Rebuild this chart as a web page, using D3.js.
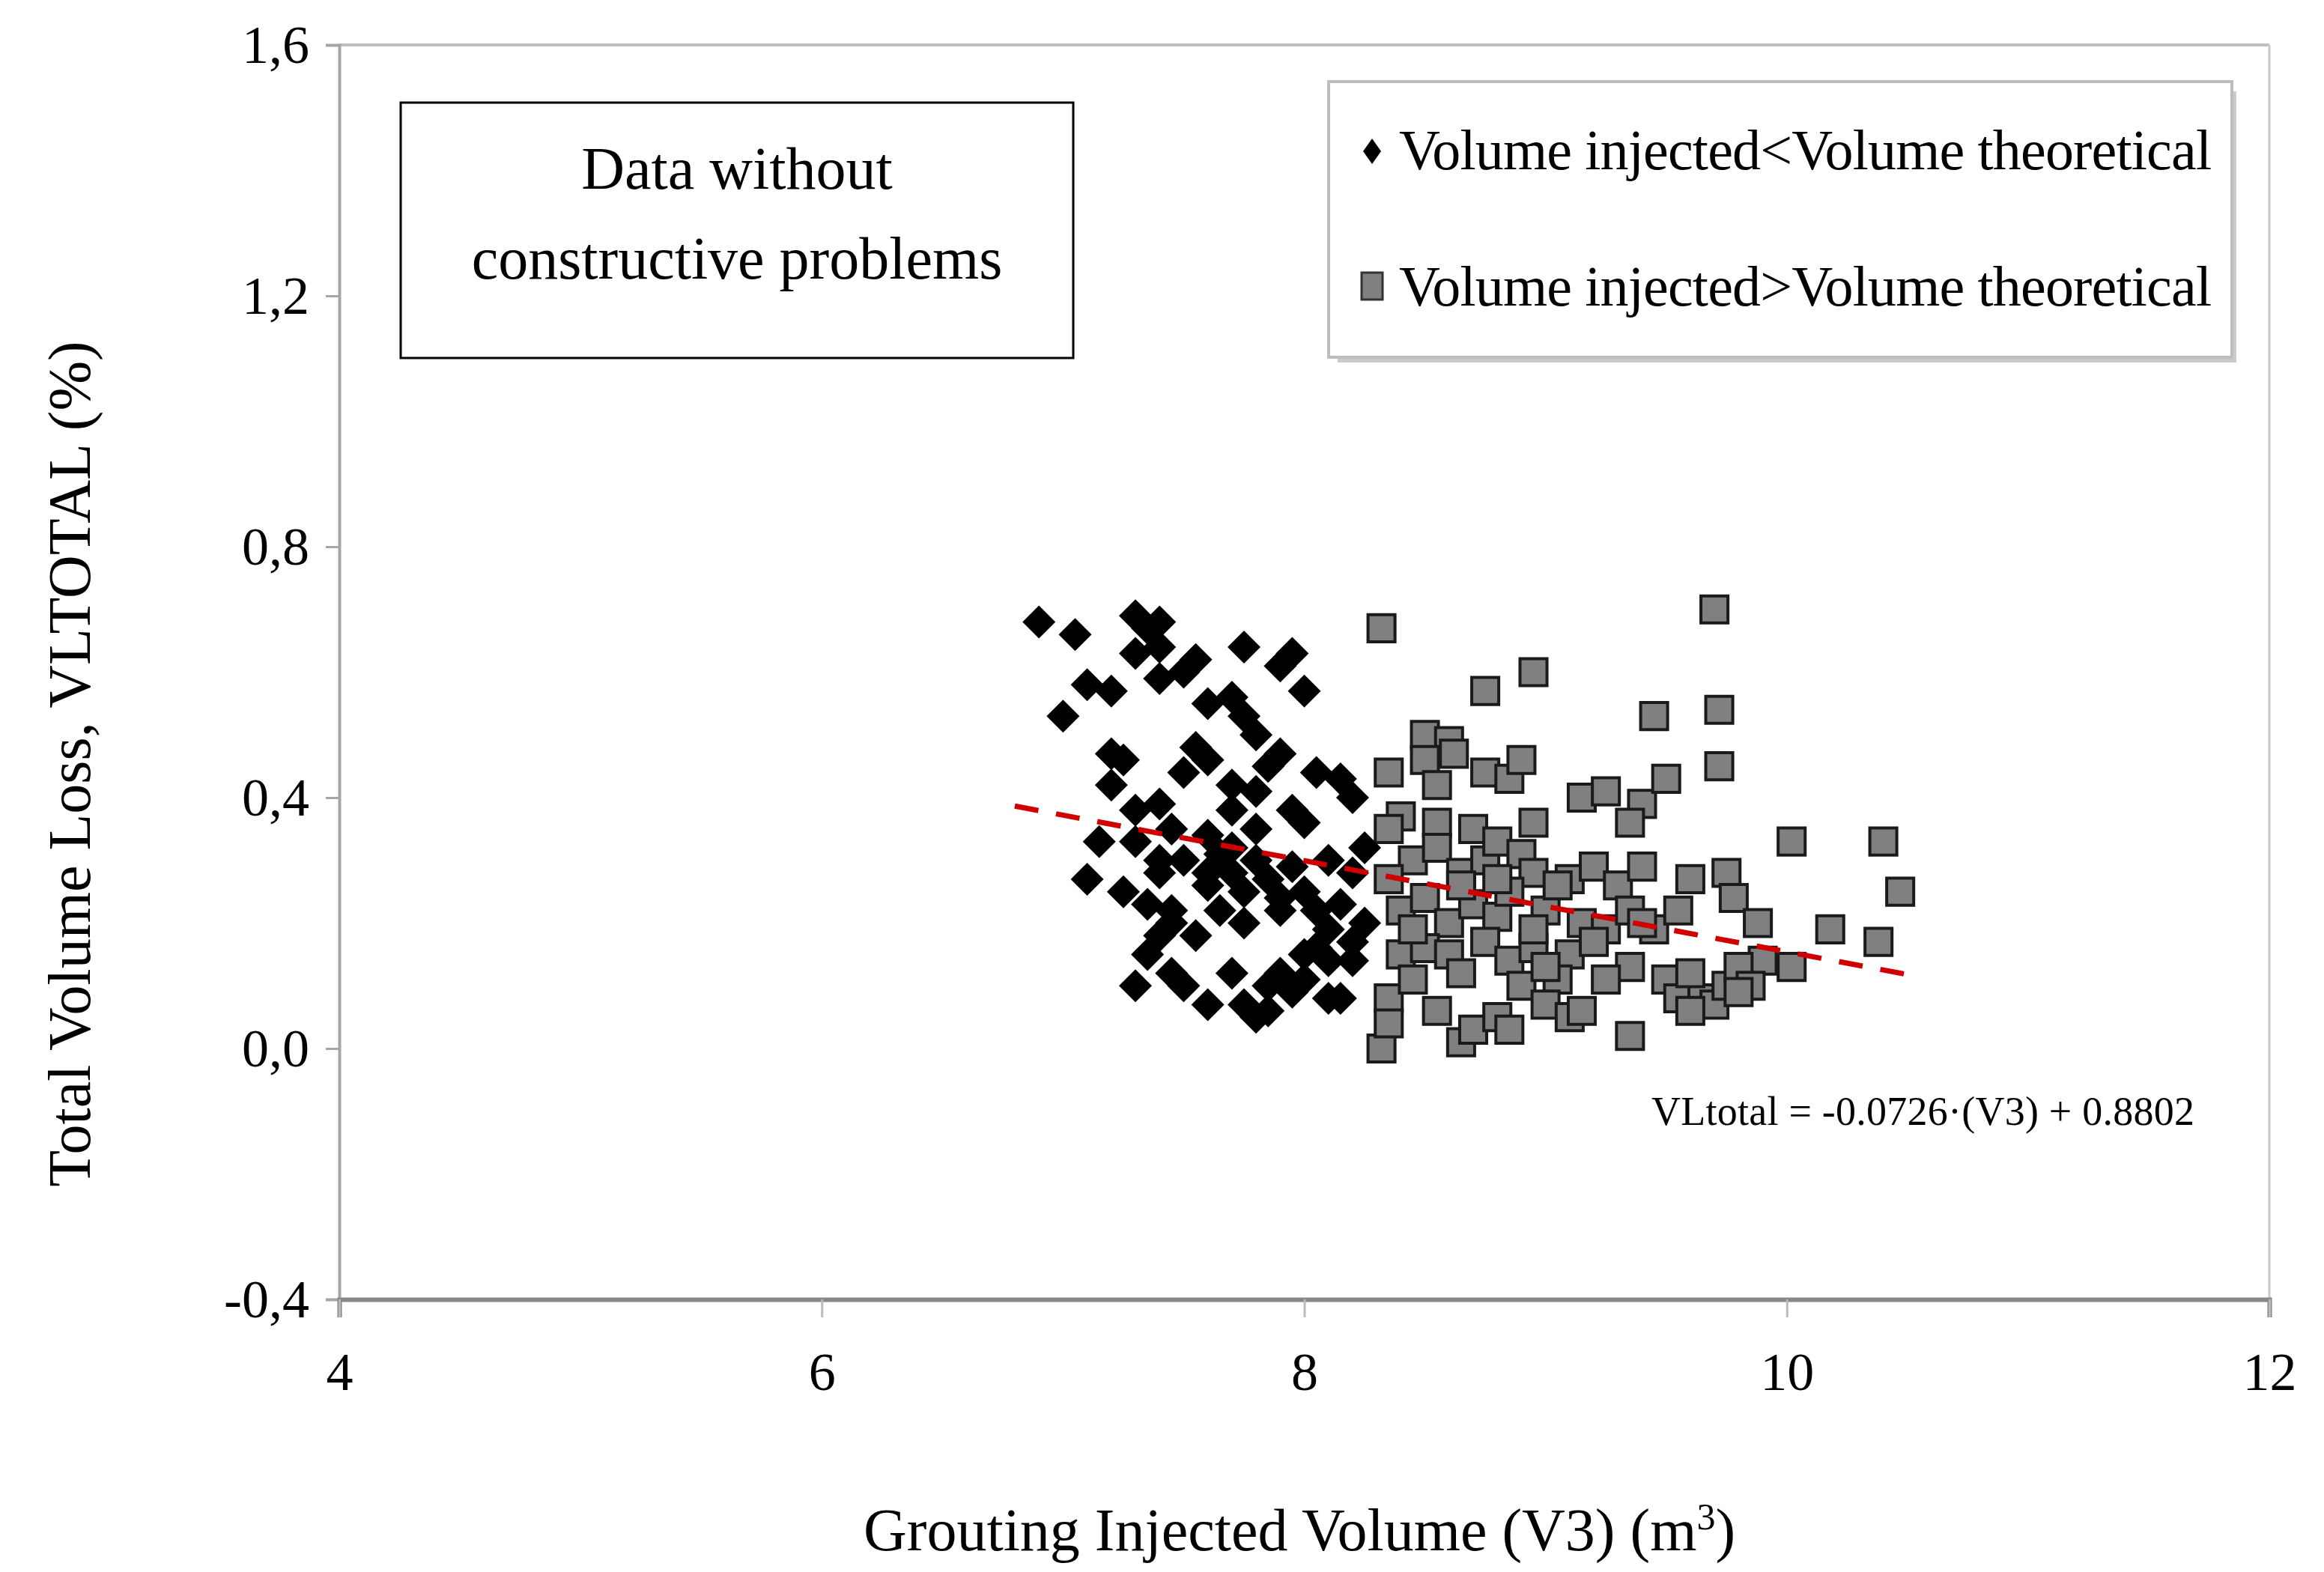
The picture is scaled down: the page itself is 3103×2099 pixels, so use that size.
<!DOCTYPE html>
<html><head><meta charset="utf-8">
<script src="https://cdn.jsdelivr.net/npm/d3@7"></script>
<style>body{margin:0;background:#fff}svg{display:block}text{font-family:"Liberation Serif","DejaVu Serif",serif}</style>
</head><body>
<script>
const xTicks=[4,6,8,10,12];
const yTicks=[-0.4,0,0.4,0.8,1.2,1.6];
const diamonds=[[6.9,0.68],[7.05,0.66],[7.1,0.58],[7.2,0.57],[7.0,0.53],[7.3,0.69],[7.35,0.67],[7.4,0.68],[7.3,0.63],[7.4,0.64],[7.55,0.62],[7.4,0.59],[7.5,0.6],[7.6,0.55],[7.75,0.64],[7.7,0.56],[7.9,0.61],[7.95,0.63],[8.0,0.57],[7.75,0.53],[7.8,0.5],[7.9,0.47],[7.2,0.47],[7.25,0.46],[7.55,0.48],[7.5,0.44],[7.6,0.46],[7.7,0.42],[7.85,0.45],[7.2,0.42],[7.3,0.38],[7.4,0.39],[7.45,0.35],[7.3,0.33],[7.15,0.33],[7.6,0.34],[7.7,0.38],[7.8,0.41],[7.95,0.38],[8.05,0.44],[8.15,0.43],[8.2,0.40],[8.0,0.36],[7.65,0.31],[7.5,0.30],[7.4,0.28],[7.1,0.27],[7.25,0.25],[7.35,0.23],[7.45,0.22],[7.4,0.18],[7.35,0.15],[7.45,0.2],[7.6,0.26],[7.7,0.28],[7.8,0.3],[7.75,0.25],[7.85,0.27],[7.9,0.24],[7.95,0.29],[8.0,0.25],[7.65,0.22],[7.75,0.20],[7.9,0.22],[8.05,0.22],[8.1,0.19],[8.15,0.23],[8.2,0.28],[8.25,0.32],[8.2,0.17],[8.05,0.16],[8.1,0.14],[8.2,0.14],[8.25,0.2],[7.3,0.1],[7.45,0.12],[7.5,0.1],[7.6,0.07],[7.7,0.12],[7.75,0.07],[7.8,0.05],[7.85,0.1],[7.9,0.12],[7.95,0.09],[8.0,0.11],[8.1,0.08],[8.15,0.08],[7.8,0.35],[7.7,0.32],[8.1,0.3],[7.55,0.18],[8.0,0.15],[7.85,0.06],[7.6,0.28],[7.4,0.3]];
const squares=[[8.32,0.67],[8.95,0.6],[8.75,0.57],[9.7,0.7],[9.72,0.54],[9.45,0.53],[9.72,0.45],[8.35,0.44],[8.5,0.5],[8.6,0.49],[8.62,0.47],[8.5,0.46],[8.55,0.42],[8.75,0.44],[8.85,0.43],[8.9,0.46],[9.15,0.4],[9.25,0.41],[9.4,0.39],[9.35,0.36],[9.5,0.43],[8.4,0.37],[8.55,0.36],[8.35,0.35],[8.7,0.35],[8.95,0.36],[8.45,0.3],[8.55,0.32],[8.65,0.28],[8.75,0.3],[8.8,0.33],[8.9,0.31],[8.95,0.28],[9.1,0.27],[9.2,0.29],[9.3,0.26],[9.4,0.29],[9.6,0.27],[9.75,0.28],[9.78,0.24],[10.02,0.33],[10.4,0.33],[10.47,0.25],[10.18,0.19],[9.88,0.2],[9.9,0.14],[10.02,0.13],[10.38,0.17],[8.35,0.27],[8.4,0.22],[8.5,0.24],[8.6,0.2],[8.7,0.23],[8.8,0.21],[8.85,0.25],[9.0,0.22],[9.05,0.26],[9.15,0.2],[9.25,0.19],[9.35,0.22],[9.45,0.19],[9.55,0.22],[8.4,0.15],[8.5,0.16],[8.6,0.15],[8.75,0.17],[8.85,0.14],[8.95,0.16],[9.1,0.15],[9.2,0.17],[9.35,0.13],[9.05,0.11],[8.35,0.08],[8.55,0.06],[8.45,0.11],[8.65,0.12],[8.9,0.1],[9.0,0.07],[9.1,0.05],[9.15,0.06],[9.25,0.11],[9.5,0.11],[9.55,0.08],[9.65,0.08],[9.7,0.07],[9.75,0.1],[9.8,0.13],[9.85,0.1],[9.6,0.06],[9.8,0.09],[8.32,0.0],[8.35,0.04],[8.65,0.01],[8.7,0.03],[8.8,0.05],[8.85,0.03],[9.35,0.02],[8.45,0.19],[8.65,0.26],[8.8,0.27],[8.95,0.19],[9.0,0.13],[9.4,0.2],[9.6,0.12]];
const trendX=[6.8,10.5];
const slope=-0.0726, intercept=0.8802;

const W=3103,H=2099,L=453,R=3030,T=60,B=1735;
const svg=d3.select("body").append("svg").attr("width",W).attr("height",H);
const x=d3.scaleLinear().domain([4,12]).range([L,R]);
const y=d3.scaleLinear().domain([-0.4,1.6]).range([B,T]);
const fmt=d=>d3.format(".1f")(d).replace(".",",").replace("−","-");

svg.append("line").attr("x1",L).attr("x2",R).attr("y1",T).attr("y2",T).attr("stroke","#c0c0c0").attr("stroke-width",4);
svg.append("line").attr("x1",R).attr("x2",R).attr("y1",T).attr("y2",B).attr("stroke","#c8c8c8").attr("stroke-width",3);
const ya=svg.append("g").attr("transform",`translate(${L},0)`).call(d3.axisLeft(y).tickValues(yTicks).tickSize(18).tickPadding(22).tickFormat(fmt));
ya.select(".domain").attr("stroke","#a6a6a6").attr("stroke-width",4);
ya.selectAll(".tick line").attr("stroke","#a6a6a6").attr("stroke-width",3);
ya.selectAll("text").attr("font-size",72).attr("fill","#000");
const xa=svg.append("g").attr("transform",`translate(0,${B})`).call(d3.axisBottom(x).tickValues(xTicks).tickSize(24).tickPadding(46).tickFormat(d3.format("d")));
xa.select(".domain").attr("stroke","#888").attr("stroke-width",6);
xa.selectAll(".tick line").attr("stroke","#bbb").attr("stroke-width",3);
xa.selectAll("text").attr("font-size",72).attr("fill","#000");

svg.append("g").selectAll("path").data(squares).join("path")
 .attr("d",d3.symbol(d3.symbolSquare,1300)).attr("transform",d=>`translate(${x(d[0])},${y(d[1])})`)
 .attr("fill","#808080").attr("stroke","#1a1a1a").attr("stroke-width",4);
svg.append("g").selectAll("path").data(diamonds).join("path")
 .attr("d","M0,-22L22,0L0,22L-22,0Z").attr("transform",d=>`translate(${x(d[0])},${y(d[1])})`)
 .attr("fill","#000");

svg.append("line").attr("x1",x(trendX[0])).attr("y1",y(slope*trendX[0]+intercept))
 .attr("x2",x(trendX[1])).attr("y2",y(slope*trendX[1]+intercept))
 .attr("stroke","#d00000").attr("stroke-width",7).attr("stroke-dasharray","32,24");
svg.append("text").attr("x",2205).attr("y",1502).attr("font-size",54).attr("textLength",725).text("VLtotal = -0.0726·(V3) + 0.8802");

svg.append("rect").attr("x",535).attr("y",137).attr("width",898).attr("height",341).attr("fill","#fff").attr("stroke","#000").attr("stroke-width",3);
svg.append("text").attr("x",984).attr("y",252).attr("text-anchor","middle").attr("font-size",80).text("Data without");
svg.append("text").attr("x",984).attr("y",372).attr("text-anchor","middle").attr("font-size",80).text("constructive problems");

svg.append("rect").attr("x",1786).attr("y",122).attr("width",1200).attr("height",362).attr("fill","#a8a8a8").attr("opacity",0.6);
svg.append("rect").attr("x",1774).attr("y",109).attr("width",1206).attr("height",368).attr("fill","#fff").attr("stroke","#bdbdbd").attr("stroke-width",4);
svg.append("path").attr("d","M0,-17L12,0L0,17L-12,0Z").attr("transform","translate(1832,202)").attr("fill","#000");
svg.append("rect").attr("x",1818).attr("y",364).attr("width",28).attr("height",36).attr("fill","#808080").attr("stroke","#333").attr("stroke-width",3);
svg.append("text").attr("x",1868).attr("y",226).attr("font-size",76).attr("textLength",1085).text("Volume injected<Volume theoretical");
svg.append("text").attr("x",1868).attr("y",408).attr("font-size",76).attr("textLength",1085).text("Volume injected>Volume theoretical");

svg.append("text").attr("x",1735).attr("y",2070).attr("text-anchor","middle").attr("font-size",80)
 .html('Grouting Injected Volume (V3) (m<tspan baseline-shift="super" font-size="50">3</tspan>)');
svg.append("text").attr("transform","translate(120,1020) rotate(-90)").attr("text-anchor","middle").attr("font-size",80)
 .text("Total Volume Loss, VLTOTAL (%)");
</script>
</body></html>
